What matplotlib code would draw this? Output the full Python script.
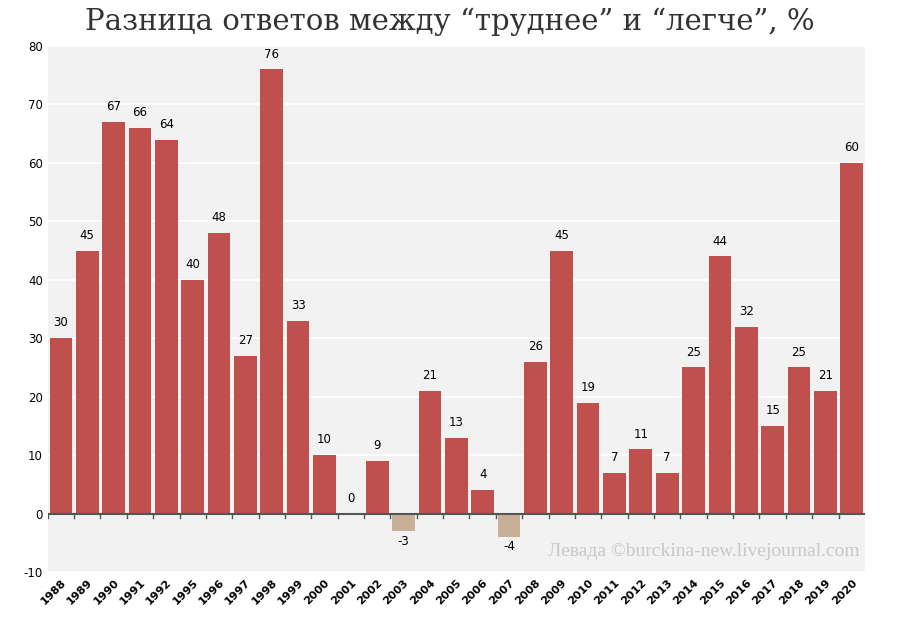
import matplotlib
matplotlib.use("Agg")
import matplotlib.pyplot as plt

years = ["1988","1989","1990","1991","1992","1995","1996","1997","1998","1999","2000",
         "2001","2002","2003","2004","2005","2006","2007","2008","2009","2010","2011",
         "2012","2013","2014","2015","2016","2017","2018","2019","2020"]
values = [30,45,67,66,64,40,48,27,76,33,10,0,9,-3,21,13,4,-4,26,45,19,7,11,7,25,44,32,15,25,21,60]

plt.rcParams["axes.unicode_minus"] = False
fig = plt.figure(figsize=(9, 6.3), dpi=100)
ax = fig.add_axes([0.053, 0.092, 0.908, 0.835])
ax.set_facecolor("#f2f2f2")
x = list(range(len(years)))
colors = ["#c0504d" if v >= 0 else "#c8b098" for v in values]
ax.bar(x, values, width=0.86, color=colors, zorder=3)
for xi, v in zip(x, values):
    if v >= 0:
        ax.text(xi, v + 1.5, str(v), ha="center", va="bottom", fontsize=8.5, zorder=4)
    else:
        ax.text(xi, v - 0.6, str(v), ha="center", va="top", fontsize=8.5, zorder=4)
ax.set_xlim(-0.5, len(years) - 0.5)
ax.set_ylim(-10, 80)
ax.set_yticks(range(-10, 81, 10))
ax.tick_params(axis="y", length=0, labelsize=8.5)
ax.yaxis.grid(True, color="white", linewidth=1.2, zorder=0)
ax.set_xticks(x)
ax.set_xticklabels(years, rotation=45, ha="right", rotation_mode="anchor",
                   fontsize=8, fontweight="bold")
ax.tick_params(axis="x", length=0, pad=4)
for s in ax.spines.values():
    s.set_visible(False)
ax.axhline(0, color="#555555", linewidth=1.5, zorder=5)
for xi in x:
    ax.plot([xi - 0.5, xi - 0.5], [0, -0.8], color="#555555", lw=1, zorder=5)
ax.text(30.3, -6.5, "Левада ©burckina-new.livejournal.com", ha="right", va="center",
        fontsize=14, family="Liberation Serif", color="#c8c8c8", zorder=6)
fig.text(0.5, 0.965, "Разница ответов между “труднее” и “легче”, %", ha="center",
         va="center", fontsize=21, family="DejaVu Serif", color="#333333")
fig.savefig("out.png")
